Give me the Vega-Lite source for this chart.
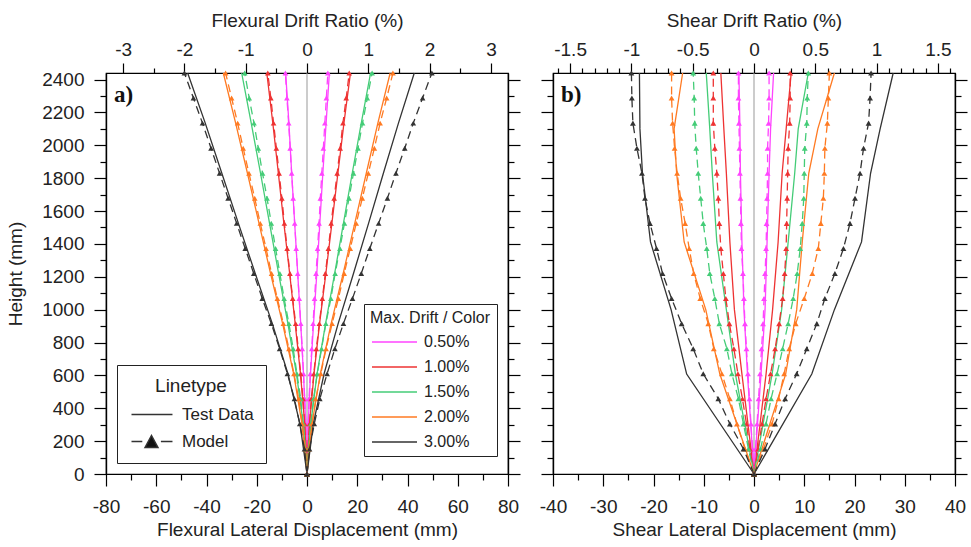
{
"$schema":"https://vega.github.io/schema/vega-lite/v6.json",
"padding":{"left":6,"top":10,"right":4,"bottom":4},
"background":"white",
"config":{
"font":"Liberation Sans",
"view":{"stroke":"#000","strokeWidth":1.2},
"axis":{"grid":false,"domainColor":"#000","domainWidth":1.2,"tickColor":"#000","tickWidth":1.2,"labelFont":"Liberation Sans","labelFontSize":19,"labelColor":"#222","titleFont":"Liberation Sans","titleFontSize":19,"titleFontWeight":"normal","titleColor":"#222","labelFlush":false,"labelOverlap":false,"labelBound":false},
"legend":{"labelFont":"Liberation Sans","titleFont":"Liberation Sans","labelColor":"#222","titleColor":"#222"}
},
"datasets":{
"test":[
{"p":"a","c":"0.50%","s":"L","h":0,"d":0},{"p":"a","c":"0.50%","s":"L","h":305,"d":-0.5},{"p":"a","c":"0.50%","s":"L","h":610,"d":-1.4},{"p":"a","c":"0.50%","s":"L","h":915,"d":-2.5},{"p":"a","c":"0.50%","s":"L","h":1220,"d":-3.7},{"p":"a","c":"0.50%","s":"L","h":1525,"d":-4.9},{"p":"a","c":"0.50%","s":"L","h":1830,"d":-6.1},{"p":"a","c":"0.50%","s":"L","h":2135,"d":-7.2},{"p":"a","c":"0.50%","s":"L","h":2440,"d":-8.5},
{"p":"a","c":"0.50%","s":"R","h":0,"d":0},{"p":"a","c":"0.50%","s":"R","h":305,"d":0.5},{"p":"a","c":"0.50%","s":"R","h":610,"d":1.4},{"p":"a","c":"0.50%","s":"R","h":915,"d":2.6},{"p":"a","c":"0.50%","s":"R","h":1220,"d":3.9},{"p":"a","c":"0.50%","s":"R","h":1525,"d":5.1},{"p":"a","c":"0.50%","s":"R","h":1830,"d":6.3},{"p":"a","c":"0.50%","s":"R","h":2135,"d":7.6},{"p":"a","c":"0.50%","s":"R","h":2440,"d":8.9},
{"p":"a","c":"1.00%","s":"L","h":0,"d":0},{"p":"a","c":"1.00%","s":"L","h":305,"d":-0.9},{"p":"a","c":"1.00%","s":"L","h":610,"d":-2.6},{"p":"a","c":"1.00%","s":"L","h":915,"d":-4.7},{"p":"a","c":"1.00%","s":"L","h":1220,"d":-6.9},{"p":"a","c":"1.00%","s":"L","h":1525,"d":-9.2},{"p":"a","c":"1.00%","s":"L","h":1830,"d":-11.4},{"p":"a","c":"1.00%","s":"L","h":2135,"d":-13.6},{"p":"a","c":"1.00%","s":"L","h":2440,"d":-16.0},
{"p":"a","c":"1.00%","s":"R","h":0,"d":0},{"p":"a","c":"1.00%","s":"R","h":305,"d":1.0},{"p":"a","c":"1.00%","s":"R","h":610,"d":2.8},{"p":"a","c":"1.00%","s":"R","h":915,"d":5.0},{"p":"a","c":"1.00%","s":"R","h":1220,"d":7.5},{"p":"a","c":"1.00%","s":"R","h":1525,"d":9.9},{"p":"a","c":"1.00%","s":"R","h":1830,"d":12.3},{"p":"a","c":"1.00%","s":"R","h":2135,"d":14.7},{"p":"a","c":"1.00%","s":"R","h":2440,"d":17.3},
{"p":"a","c":"1.50%","s":"L","h":0,"d":0},{"p":"a","c":"1.50%","s":"L","h":305,"d":-1.5},{"p":"a","c":"1.50%","s":"L","h":610,"d":-4.2},{"p":"a","c":"1.50%","s":"L","h":915,"d":-7.6},{"p":"a","c":"1.50%","s":"L","h":1220,"d":-11.3},{"p":"a","c":"1.50%","s":"L","h":1525,"d":-14.9},{"p":"a","c":"1.50%","s":"L","h":1830,"d":-18.5},{"p":"a","c":"1.50%","s":"L","h":2135,"d":-22.2},{"p":"a","c":"1.50%","s":"L","h":2440,"d":-26.0},
{"p":"a","c":"1.50%","s":"R","h":0,"d":0},{"p":"a","c":"1.50%","s":"R","h":305,"d":1.5},{"p":"a","c":"1.50%","s":"R","h":610,"d":4.0},{"p":"a","c":"1.50%","s":"R","h":915,"d":7.4},{"p":"a","c":"1.50%","s":"R","h":1220,"d":11.0},{"p":"a","c":"1.50%","s":"R","h":1525,"d":14.5},{"p":"a","c":"1.50%","s":"R","h":1830,"d":18.0},{"p":"a","c":"1.50%","s":"R","h":2135,"d":21.6},{"p":"a","c":"1.50%","s":"R","h":2440,"d":25.3},
{"p":"a","c":"2.00%","s":"L","h":0,"d":0},{"p":"a","c":"2.00%","s":"L","h":305,"d":-2.0},{"p":"a","c":"2.00%","s":"L","h":610,"d":-5.3},{"p":"a","c":"2.00%","s":"L","h":915,"d":-9.7},{"p":"a","c":"2.00%","s":"L","h":1220,"d":-14.5},{"p":"a","c":"2.00%","s":"L","h":1525,"d":-19.1},{"p":"a","c":"2.00%","s":"L","h":1830,"d":-23.7},{"p":"a","c":"2.00%","s":"L","h":2135,"d":-28.4},{"p":"a","c":"2.00%","s":"L","h":2440,"d":-33.3},
{"p":"a","c":"2.00%","s":"R","h":0,"d":0},{"p":"a","c":"2.00%","s":"R","h":305,"d":2.0},{"p":"a","c":"2.00%","s":"R","h":610,"d":5.3},{"p":"a","c":"2.00%","s":"R","h":915,"d":9.6},{"p":"a","c":"2.00%","s":"R","h":1220,"d":14.4},{"p":"a","c":"2.00%","s":"R","h":1525,"d":19.0},{"p":"a","c":"2.00%","s":"R","h":1830,"d":23.6},{"p":"a","c":"2.00%","s":"R","h":2135,"d":28.2},{"p":"a","c":"2.00%","s":"R","h":2440,"d":33.1},
{"p":"a","c":"3.00%","s":"L","h":0,"d":0},{"p":"a","c":"3.00%","s":"L","h":305,"d":-2.8},{"p":"a","c":"3.00%","s":"L","h":610,"d":-7.6},{"p":"a","c":"3.00%","s":"L","h":915,"d":-13.8},{"p":"a","c":"3.00%","s":"L","h":1220,"d":-20.6},{"p":"a","c":"3.00%","s":"L","h":1525,"d":-27.3},{"p":"a","c":"3.00%","s":"L","h":1830,"d":-33.9},{"p":"a","c":"3.00%","s":"L","h":2135,"d":-40.5},{"p":"a","c":"3.00%","s":"L","h":2440,"d":-47.5},
{"p":"a","c":"3.00%","s":"R","h":0,"d":0},{"p":"a","c":"3.00%","s":"R","h":305,"d":2.5},{"p":"a","c":"3.00%","s":"R","h":610,"d":6.8},{"p":"a","c":"3.00%","s":"R","h":915,"d":12.4},{"p":"a","c":"3.00%","s":"R","h":1220,"d":18.5},{"p":"a","c":"3.00%","s":"R","h":1525,"d":24.5},{"p":"a","c":"3.00%","s":"R","h":1830,"d":30.4},{"p":"a","c":"3.00%","s":"R","h":2135,"d":36.4},{"p":"a","c":"3.00%","s":"R","h":2440,"d":42.7},
{"p":"b","c":"0.50%","s":"L","h":0,"d":0},{"p":"b","c":"0.50%","s":"L","h":608,"d":-1.3},{"p":"b","c":"0.50%","s":"L","h":1000,"d":-2.0},{"p":"b","c":"0.50%","s":"L","h":1412,"d":-2.4},{"p":"b","c":"0.50%","s":"L","h":1830,"d":-2.7},{"p":"b","c":"0.50%","s":"L","h":2100,"d":-2.8},{"p":"b","c":"0.50%","s":"L","h":2440,"d":-3.0},
{"p":"b","c":"0.50%","s":"R","h":0,"d":0},{"p":"b","c":"0.50%","s":"R","h":608,"d":1.4},{"p":"b","c":"0.50%","s":"R","h":1000,"d":2.2},{"p":"b","c":"0.50%","s":"R","h":1412,"d":2.6},{"p":"b","c":"0.50%","s":"R","h":1830,"d":3.0},{"p":"b","c":"0.50%","s":"R","h":2100,"d":3.3},{"p":"b","c":"0.50%","s":"R","h":2440,"d":3.9},
{"p":"b","c":"1.00%","s":"L","h":0,"d":0},{"p":"b","c":"1.00%","s":"L","h":608,"d":-2.4},{"p":"b","c":"1.00%","s":"L","h":1000,"d":-3.9},{"p":"b","c":"1.00%","s":"L","h":1412,"d":-4.8},{"p":"b","c":"1.00%","s":"L","h":1830,"d":-5.5},{"p":"b","c":"1.00%","s":"L","h":2100,"d":-6.0},{"p":"b","c":"1.00%","s":"L","h":2440,"d":-6.6},
{"p":"b","c":"1.00%","s":"R","h":0,"d":0},{"p":"b","c":"1.00%","s":"R","h":608,"d":2.4},{"p":"b","c":"1.00%","s":"R","h":1000,"d":3.7},{"p":"b","c":"1.00%","s":"R","h":1412,"d":4.8},{"p":"b","c":"1.00%","s":"R","h":1830,"d":5.6},{"p":"b","c":"1.00%","s":"R","h":2100,"d":6.4},{"p":"b","c":"1.00%","s":"R","h":2440,"d":7.4},
{"p":"b","c":"1.50%","s":"L","h":0,"d":0},{"p":"b","c":"1.50%","s":"L","h":608,"d":-3.7},{"p":"b","c":"1.50%","s":"L","h":1000,"d":-5.5},{"p":"b","c":"1.50%","s":"L","h":1412,"d":-7.4},{"p":"b","c":"1.50%","s":"L","h":1830,"d":-8.3},{"p":"b","c":"1.50%","s":"L","h":2100,"d":-8.8},{"p":"b","c":"1.50%","s":"L","h":2440,"d":-9.5},
{"p":"b","c":"1.50%","s":"R","h":0,"d":0},{"p":"b","c":"1.50%","s":"R","h":608,"d":3.6},{"p":"b","c":"1.50%","s":"R","h":1000,"d":5.5},{"p":"b","c":"1.50%","s":"R","h":1412,"d":6.8},{"p":"b","c":"1.50%","s":"R","h":1830,"d":8.1},{"p":"b","c":"1.50%","s":"R","h":2100,"d":8.8},{"p":"b","c":"1.50%","s":"R","h":2440,"d":10.8},
{"p":"b","c":"2.00%","s":"L","h":0,"d":0},{"p":"b","c":"2.00%","s":"L","h":608,"d":-6.8},{"p":"b","c":"2.00%","s":"L","h":1000,"d":-9.6},{"p":"b","c":"2.00%","s":"L","h":1412,"d":-13.9},{"p":"b","c":"2.00%","s":"L","h":1830,"d":-15.4},{"p":"b","c":"2.00%","s":"L","h":2100,"d":-15.9},{"p":"b","c":"2.00%","s":"L","h":2440,"d":-14.2},
{"p":"b","c":"2.00%","s":"R","h":0,"d":0},{"p":"b","c":"2.00%","s":"R","h":608,"d":6.3},{"p":"b","c":"2.00%","s":"R","h":1000,"d":8.5},{"p":"b","c":"2.00%","s":"R","h":1412,"d":9.6},{"p":"b","c":"2.00%","s":"R","h":1830,"d":10.9},{"p":"b","c":"2.00%","s":"R","h":2100,"d":12.7},{"p":"b","c":"2.00%","s":"R","h":2440,"d":16.0},
{"p":"b","c":"3.00%","s":"L","h":0,"d":0},{"p":"b","c":"3.00%","s":"L","h":608,"d":-13.4},{"p":"b","c":"3.00%","s":"L","h":1000,"d":-16.5},{"p":"b","c":"3.00%","s":"L","h":1412,"d":-20.6},{"p":"b","c":"3.00%","s":"L","h":1830,"d":-22.2},{"p":"b","c":"3.00%","s":"L","h":2100,"d":-22.7},{"p":"b","c":"3.00%","s":"L","h":2440,"d":-22.8},
{"p":"b","c":"3.00%","s":"R","h":0,"d":0},{"p":"b","c":"3.00%","s":"R","h":608,"d":11.5},{"p":"b","c":"3.00%","s":"R","h":1000,"d":16.0},{"p":"b","c":"3.00%","s":"R","h":1412,"d":21.4},{"p":"b","c":"3.00%","s":"R","h":1830,"d":23.2},{"p":"b","c":"3.00%","s":"R","h":2100,"d":25.1},{"p":"b","c":"3.00%","s":"R","h":2440,"d":27.7}
],
"model":[
{"p":"a","c":"0.50%","s":"L","h":0,"d":0},{"p":"a","c":"0.50%","s":"L","h":152.5,"d":-0.2},{"p":"a","c":"0.50%","s":"L","h":305,"d":-0.5},{"p":"a","c":"0.50%","s":"L","h":457.5,"d":-0.9},{"p":"a","c":"0.50%","s":"L","h":610,"d":-1.4},{"p":"a","c":"0.50%","s":"L","h":762.5,"d":-1.9},{"p":"a","c":"0.50%","s":"L","h":915,"d":-2.5},{"p":"a","c":"0.50%","s":"L","h":1067.5,"d":-3.1},{"p":"a","c":"0.50%","s":"L","h":1220,"d":-3.7},{"p":"a","c":"0.50%","s":"L","h":1372.5,"d":-4.3},{"p":"a","c":"0.50%","s":"L","h":1525,"d":-4.9},{"p":"a","c":"0.50%","s":"L","h":1677.5,"d":-5.5},{"p":"a","c":"0.50%","s":"L","h":1830,"d":-6.1},{"p":"a","c":"0.50%","s":"L","h":1982.5,"d":-6.7},{"p":"a","c":"0.50%","s":"L","h":2135,"d":-7.3},{"p":"a","c":"0.50%","s":"L","h":2287.5,"d":-8.0},{"p":"a","c":"0.50%","s":"L","h":2440,"d":-8.6},
{"p":"a","c":"0.50%","s":"R","h":0,"d":0},{"p":"a","c":"0.50%","s":"R","h":152.5,"d":0.2},{"p":"a","c":"0.50%","s":"R","h":305,"d":0.5},{"p":"a","c":"0.50%","s":"R","h":457.5,"d":0.8},{"p":"a","c":"0.50%","s":"R","h":610,"d":1.3},{"p":"a","c":"0.50%","s":"R","h":762.5,"d":1.9},{"p":"a","c":"0.50%","s":"R","h":915,"d":2.4},{"p":"a","c":"0.50%","s":"R","h":1067.5,"d":3.0},{"p":"a","c":"0.50%","s":"R","h":1220,"d":3.6},{"p":"a","c":"0.50%","s":"R","h":1372.5,"d":4.2},{"p":"a","c":"0.50%","s":"R","h":1525,"d":4.8},{"p":"a","c":"0.50%","s":"R","h":1677.5,"d":5.3},{"p":"a","c":"0.50%","s":"R","h":1830,"d":5.9},{"p":"a","c":"0.50%","s":"R","h":1982.5,"d":6.5},{"p":"a","c":"0.50%","s":"R","h":2135,"d":7.1},{"p":"a","c":"0.50%","s":"R","h":2287.5,"d":7.7},{"p":"a","c":"0.50%","s":"R","h":2440,"d":8.3},
{"p":"a","c":"1.00%","s":"L","h":0,"d":0},{"p":"a","c":"1.00%","s":"L","h":152.5,"d":-0.3},{"p":"a","c":"1.00%","s":"L","h":305,"d":-0.9},{"p":"a","c":"1.00%","s":"L","h":457.5,"d":-1.6},{"p":"a","c":"1.00%","s":"L","h":610,"d":-2.5},{"p":"a","c":"1.00%","s":"L","h":762.5,"d":-3.5},{"p":"a","c":"1.00%","s":"L","h":915,"d":-4.5},{"p":"a","c":"1.00%","s":"L","h":1067.5,"d":-5.7},{"p":"a","c":"1.00%","s":"L","h":1220,"d":-6.8},{"p":"a","c":"1.00%","s":"L","h":1372.5,"d":-7.9},{"p":"a","c":"1.00%","s":"L","h":1525,"d":-9.0},{"p":"a","c":"1.00%","s":"L","h":1677.5,"d":-10.0},{"p":"a","c":"1.00%","s":"L","h":1830,"d":-11.1},{"p":"a","c":"1.00%","s":"L","h":1982.5,"d":-12.2},{"p":"a","c":"1.00%","s":"L","h":2135,"d":-13.3},{"p":"a","c":"1.00%","s":"L","h":2287.5,"d":-14.4},{"p":"a","c":"1.00%","s":"L","h":2440,"d":-15.6},
{"p":"a","c":"1.00%","s":"R","h":0,"d":0},{"p":"a","c":"1.00%","s":"R","h":152.5,"d":0.3},{"p":"a","c":"1.00%","s":"R","h":305,"d":1.0},{"p":"a","c":"1.00%","s":"R","h":457.5,"d":1.7},{"p":"a","c":"1.00%","s":"R","h":610,"d":2.7},{"p":"a","c":"1.00%","s":"R","h":762.5,"d":3.7},{"p":"a","c":"1.00%","s":"R","h":915,"d":4.9},{"p":"a","c":"1.00%","s":"R","h":1067.5,"d":6.1},{"p":"a","c":"1.00%","s":"R","h":1220,"d":7.3},{"p":"a","c":"1.00%","s":"R","h":1372.5,"d":8.5},{"p":"a","c":"1.00%","s":"R","h":1525,"d":9.6},{"p":"a","c":"1.00%","s":"R","h":1677.5,"d":10.8},{"p":"a","c":"1.00%","s":"R","h":1830,"d":12.0},{"p":"a","c":"1.00%","s":"R","h":1982.5,"d":13.2},{"p":"a","c":"1.00%","s":"R","h":2135,"d":14.3},{"p":"a","c":"1.00%","s":"R","h":2287.5,"d":15.6},{"p":"a","c":"1.00%","s":"R","h":2440,"d":16.8},
{"p":"a","c":"1.50%","s":"L","h":0,"d":0},{"p":"a","c":"1.50%","s":"L","h":152.5,"d":-0.5},{"p":"a","c":"1.50%","s":"L","h":305,"d":-1.5},{"p":"a","c":"1.50%","s":"L","h":457.5,"d":-2.5},{"p":"a","c":"1.50%","s":"L","h":610,"d":-4.0},{"p":"a","c":"1.50%","s":"L","h":762.5,"d":-5.5},{"p":"a","c":"1.50%","s":"L","h":915,"d":-7.2},{"p":"a","c":"1.50%","s":"L","h":1067.5,"d":-9.1},{"p":"a","c":"1.50%","s":"L","h":1220,"d":-10.8},{"p":"a","c":"1.50%","s":"L","h":1372.5,"d":-12.5},{"p":"a","c":"1.50%","s":"L","h":1525,"d":-14.2},{"p":"a","c":"1.50%","s":"L","h":1677.5,"d":-15.9},{"p":"a","c":"1.50%","s":"L","h":1830,"d":-17.7},{"p":"a","c":"1.50%","s":"L","h":1982.5,"d":-19.4},{"p":"a","c":"1.50%","s":"L","h":2135,"d":-21.1},{"p":"a","c":"1.50%","s":"L","h":2287.5,"d":-23.0},{"p":"a","c":"1.50%","s":"L","h":2440,"d":-24.8},
{"p":"a","c":"1.50%","s":"R","h":0,"d":0},{"p":"a","c":"1.50%","s":"R","h":152.5,"d":0.5},{"p":"a","c":"1.50%","s":"R","h":305,"d":1.5},{"p":"a","c":"1.50%","s":"R","h":457.5,"d":2.6},{"p":"a","c":"1.50%","s":"R","h":610,"d":4.1},{"p":"a","c":"1.50%","s":"R","h":762.5,"d":5.8},{"p":"a","c":"1.50%","s":"R","h":915,"d":7.5},{"p":"a","c":"1.50%","s":"R","h":1067.5,"d":9.5},{"p":"a","c":"1.50%","s":"R","h":1220,"d":11.2},{"p":"a","c":"1.50%","s":"R","h":1372.5,"d":13.1},{"p":"a","c":"1.50%","s":"R","h":1525,"d":14.9},{"p":"a","c":"1.50%","s":"R","h":1677.5,"d":16.7},{"p":"a","c":"1.50%","s":"R","h":1830,"d":18.5},{"p":"a","c":"1.50%","s":"R","h":1982.5,"d":20.3},{"p":"a","c":"1.50%","s":"R","h":2135,"d":22.1},{"p":"a","c":"1.50%","s":"R","h":2287.5,"d":24.0},{"p":"a","c":"1.50%","s":"R","h":2440,"d":25.9},
{"p":"a","c":"2.00%","s":"L","h":0,"d":0},{"p":"a","c":"2.00%","s":"L","h":152.5,"d":-0.6},{"p":"a","c":"2.00%","s":"L","h":305,"d":-1.9},{"p":"a","c":"2.00%","s":"L","h":457.5,"d":-3.3},{"p":"a","c":"2.00%","s":"L","h":610,"d":-5.2},{"p":"a","c":"2.00%","s":"L","h":762.5,"d":-7.2},{"p":"a","c":"2.00%","s":"L","h":915,"d":-9.4},{"p":"a","c":"2.00%","s":"L","h":1067.5,"d":-11.8},{"p":"a","c":"2.00%","s":"L","h":1220,"d":-14.1},{"p":"a","c":"2.00%","s":"L","h":1372.5,"d":-16.3},{"p":"a","c":"2.00%","s":"L","h":1525,"d":-18.6},{"p":"a","c":"2.00%","s":"L","h":1677.5,"d":-20.8},{"p":"a","c":"2.00%","s":"L","h":1830,"d":-23.1},{"p":"a","c":"2.00%","s":"L","h":1982.5,"d":-25.4},{"p":"a","c":"2.00%","s":"L","h":2135,"d":-27.6},{"p":"a","c":"2.00%","s":"L","h":2287.5,"d":-30.0},{"p":"a","c":"2.00%","s":"L","h":2440,"d":-32.4},
{"p":"a","c":"2.00%","s":"R","h":0,"d":0},{"p":"a","c":"2.00%","s":"R","h":152.5,"d":0.7},{"p":"a","c":"2.00%","s":"R","h":305,"d":2.0},{"p":"a","c":"2.00%","s":"R","h":457.5,"d":3.5},{"p":"a","c":"2.00%","s":"R","h":610,"d":5.5},{"p":"a","c":"2.00%","s":"R","h":762.5,"d":7.6},{"p":"a","c":"2.00%","s":"R","h":915,"d":10.0},{"p":"a","c":"2.00%","s":"R","h":1067.5,"d":12.5},{"p":"a","c":"2.00%","s":"R","h":1220,"d":14.8},{"p":"a","c":"2.00%","s":"R","h":1372.5,"d":17.2},{"p":"a","c":"2.00%","s":"R","h":1525,"d":19.6},{"p":"a","c":"2.00%","s":"R","h":1677.5,"d":22.0},{"p":"a","c":"2.00%","s":"R","h":1830,"d":24.4},{"p":"a","c":"2.00%","s":"R","h":1982.5,"d":26.8},{"p":"a","c":"2.00%","s":"R","h":2135,"d":29.1},{"p":"a","c":"2.00%","s":"R","h":2287.5,"d":31.7},{"p":"a","c":"2.00%","s":"R","h":2440,"d":34.2},
{"p":"a","c":"3.00%","s":"L","h":0,"d":0},{"p":"a","c":"3.00%","s":"L","h":152.5,"d":-1.0},{"p":"a","c":"3.00%","s":"L","h":305,"d":-2.9},{"p":"a","c":"3.00%","s":"L","h":457.5,"d":-5.0},{"p":"a","c":"3.00%","s":"L","h":610,"d":-7.8},{"p":"a","c":"3.00%","s":"L","h":762.5,"d":-10.9},{"p":"a","c":"3.00%","s":"L","h":915,"d":-14.2},{"p":"a","c":"3.00%","s":"L","h":1067.5,"d":-17.8},{"p":"a","c":"3.00%","s":"L","h":1220,"d":-21.2},{"p":"a","c":"3.00%","s":"L","h":1372.5,"d":-24.6},{"p":"a","c":"3.00%","s":"L","h":1525,"d":-28.0},{"p":"a","c":"3.00%","s":"L","h":1677.5,"d":-31.4},{"p":"a","c":"3.00%","s":"L","h":1830,"d":-34.8},{"p":"a","c":"3.00%","s":"L","h":1982.5,"d":-38.2},{"p":"a","c":"3.00%","s":"L","h":2135,"d":-41.6},{"p":"a","c":"3.00%","s":"L","h":2287.5,"d":-45.2},{"p":"a","c":"3.00%","s":"L","h":2440,"d":-48.8},
{"p":"a","c":"3.00%","s":"R","h":0,"d":0},{"p":"a","c":"3.00%","s":"R","h":152.5,"d":1.0},{"p":"a","c":"3.00%","s":"R","h":305,"d":2.9},{"p":"a","c":"3.00%","s":"R","h":457.5,"d":5.1},{"p":"a","c":"3.00%","s":"R","h":610,"d":8.0},{"p":"a","c":"3.00%","s":"R","h":762.5,"d":11.1},{"p":"a","c":"3.00%","s":"R","h":915,"d":14.5},{"p":"a","c":"3.00%","s":"R","h":1067.5,"d":18.1},{"p":"a","c":"3.00%","s":"R","h":1220,"d":21.6},{"p":"a","c":"3.00%","s":"R","h":1372.5,"d":25.0},{"p":"a","c":"3.00%","s":"R","h":1525,"d":28.5},{"p":"a","c":"3.00%","s":"R","h":1677.5,"d":32.0},{"p":"a","c":"3.00%","s":"R","h":1830,"d":35.4},{"p":"a","c":"3.00%","s":"R","h":1982.5,"d":38.9},{"p":"a","c":"3.00%","s":"R","h":2135,"d":42.3},{"p":"a","c":"3.00%","s":"R","h":2287.5,"d":46.0},{"p":"a","c":"3.00%","s":"R","h":2440,"d":49.7},
{"p":"b","c":"0.50%","s":"L","h":0,"d":0},{"p":"b","c":"0.50%","s":"L","h":152.5,"d":-0.3},{"p":"b","c":"0.50%","s":"L","h":305,"d":-0.6},{"p":"b","c":"0.50%","s":"L","h":457.5,"d":-0.9},{"p":"b","c":"0.50%","s":"L","h":610,"d":-1.2},{"p":"b","c":"0.50%","s":"L","h":762.5,"d":-1.5},{"p":"b","c":"0.50%","s":"L","h":915,"d":-1.8},{"p":"b","c":"0.50%","s":"L","h":1067.5,"d":-2.0},{"p":"b","c":"0.50%","s":"L","h":1220,"d":-2.2},{"p":"b","c":"0.50%","s":"L","h":1372.5,"d":-2.5},{"p":"b","c":"0.50%","s":"L","h":1525,"d":-2.6},{"p":"b","c":"0.50%","s":"L","h":1677.5,"d":-2.7},{"p":"b","c":"0.50%","s":"L","h":1830,"d":-2.8},{"p":"b","c":"0.50%","s":"L","h":1982.5,"d":-2.9},{"p":"b","c":"0.50%","s":"L","h":2135,"d":-3.0},{"p":"b","c":"0.50%","s":"L","h":2287.5,"d":-3.1},{"p":"b","c":"0.50%","s":"L","h":2440,"d":-3.1},
{"p":"b","c":"0.50%","s":"R","h":0,"d":0},{"p":"b","c":"0.50%","s":"R","h":152.5,"d":0.3},{"p":"b","c":"0.50%","s":"R","h":305,"d":0.6},{"p":"b","c":"0.50%","s":"R","h":457.5,"d":0.9},{"p":"b","c":"0.50%","s":"R","h":610,"d":1.2},{"p":"b","c":"0.50%","s":"R","h":762.5,"d":1.5},{"p":"b","c":"0.50%","s":"R","h":915,"d":1.8},{"p":"b","c":"0.50%","s":"R","h":1067.5,"d":2.0},{"p":"b","c":"0.50%","s":"R","h":1220,"d":2.2},{"p":"b","c":"0.50%","s":"R","h":1372.5,"d":2.4},{"p":"b","c":"0.50%","s":"R","h":1525,"d":2.5},{"p":"b","c":"0.50%","s":"R","h":1677.5,"d":2.6},{"p":"b","c":"0.50%","s":"R","h":1830,"d":2.7},{"p":"b","c":"0.50%","s":"R","h":1982.5,"d":2.7},{"p":"b","c":"0.50%","s":"R","h":2135,"d":2.9},{"p":"b","c":"0.50%","s":"R","h":2287.5,"d":3.0},{"p":"b","c":"0.50%","s":"R","h":2440,"d":3.0},
{"p":"b","c":"1.00%","s":"L","h":0,"d":0},{"p":"b","c":"1.00%","s":"L","h":152.5,"d":-0.8},{"p":"b","c":"1.00%","s":"L","h":305,"d":-1.5},{"p":"b","c":"1.00%","s":"L","h":457.5,"d":-2.3},{"p":"b","c":"1.00%","s":"L","h":610,"d":-3.2},{"p":"b","c":"1.00%","s":"L","h":762.5,"d":-4.0},{"p":"b","c":"1.00%","s":"L","h":915,"d":-4.9},{"p":"b","c":"1.00%","s":"L","h":1067.5,"d":-5.6},{"p":"b","c":"1.00%","s":"L","h":1220,"d":-6.1},{"p":"b","c":"1.00%","s":"L","h":1372.5,"d":-6.6},{"p":"b","c":"1.00%","s":"L","h":1525,"d":-6.9},{"p":"b","c":"1.00%","s":"L","h":1677.5,"d":-7.1},{"p":"b","c":"1.00%","s":"L","h":1830,"d":-7.4},{"p":"b","c":"1.00%","s":"L","h":1982.5,"d":-7.8},{"p":"b","c":"1.00%","s":"L","h":2135,"d":-8.1},{"p":"b","c":"1.00%","s":"L","h":2287.5,"d":-8.1},{"p":"b","c":"1.00%","s":"L","h":2440,"d":-8.1},
{"p":"b","c":"1.00%","s":"R","h":0,"d":0},{"p":"b","c":"1.00%","s":"R","h":152.5,"d":0.8},{"p":"b","c":"1.00%","s":"R","h":305,"d":1.6},{"p":"b","c":"1.00%","s":"R","h":457.5,"d":2.4},{"p":"b","c":"1.00%","s":"R","h":610,"d":3.3},{"p":"b","c":"1.00%","s":"R","h":762.5,"d":4.2},{"p":"b","c":"1.00%","s":"R","h":915,"d":5.0},{"p":"b","c":"1.00%","s":"R","h":1067.5,"d":5.7},{"p":"b","c":"1.00%","s":"R","h":1220,"d":6.1},{"p":"b","c":"1.00%","s":"R","h":1372.5,"d":6.4},{"p":"b","c":"1.00%","s":"R","h":1525,"d":6.5},{"p":"b","c":"1.00%","s":"R","h":1677.5,"d":6.6},{"p":"b","c":"1.00%","s":"R","h":1830,"d":6.7},{"p":"b","c":"1.00%","s":"R","h":1982.5,"d":6.8},{"p":"b","c":"1.00%","s":"R","h":2135,"d":7.1},{"p":"b","c":"1.00%","s":"R","h":2287.5,"d":7.2},{"p":"b","c":"1.00%","s":"R","h":2440,"d":7.2},
{"p":"b","c":"1.50%","s":"L","h":0,"d":0},{"p":"b","c":"1.50%","s":"L","h":152.5,"d":-1.1},{"p":"b","c":"1.50%","s":"L","h":305,"d":-2.1},{"p":"b","c":"1.50%","s":"L","h":457.5,"d":-3.1},{"p":"b","c":"1.50%","s":"L","h":610,"d":-4.4},{"p":"b","c":"1.50%","s":"L","h":762.5,"d":-5.4},{"p":"b","c":"1.50%","s":"L","h":915,"d":-6.9},{"p":"b","c":"1.50%","s":"L","h":1067.5,"d":-7.8},{"p":"b","c":"1.50%","s":"L","h":1220,"d":-8.8},{"p":"b","c":"1.50%","s":"L","h":1372.5,"d":-9.4},{"p":"b","c":"1.50%","s":"L","h":1525,"d":-10.1},{"p":"b","c":"1.50%","s":"L","h":1677.5,"d":-10.6},{"p":"b","c":"1.50%","s":"L","h":1830,"d":-11.1},{"p":"b","c":"1.50%","s":"L","h":1982.5,"d":-11.5},{"p":"b","c":"1.50%","s":"L","h":2135,"d":-11.8},{"p":"b","c":"1.50%","s":"L","h":2287.5,"d":-11.9},{"p":"b","c":"1.50%","s":"L","h":2440,"d":-12.1},
{"p":"b","c":"1.50%","s":"R","h":0,"d":0},{"p":"b","c":"1.50%","s":"R","h":152.5,"d":1.3},{"p":"b","c":"1.50%","s":"R","h":305,"d":2.4},{"p":"b","c":"1.50%","s":"R","h":457.5,"d":3.4},{"p":"b","c":"1.50%","s":"R","h":610,"d":4.6},{"p":"b","c":"1.50%","s":"R","h":762.5,"d":5.7},{"p":"b","c":"1.50%","s":"R","h":915,"d":6.8},{"p":"b","c":"1.50%","s":"R","h":1067.5,"d":7.8},{"p":"b","c":"1.50%","s":"R","h":1220,"d":8.6},{"p":"b","c":"1.50%","s":"R","h":1372.5,"d":9.2},{"p":"b","c":"1.50%","s":"R","h":1525,"d":9.6},{"p":"b","c":"1.50%","s":"R","h":1677.5,"d":9.9},{"p":"b","c":"1.50%","s":"R","h":1830,"d":10.0},{"p":"b","c":"1.50%","s":"R","h":1982.5,"d":10.1},{"p":"b","c":"1.50%","s":"R","h":2135,"d":10.5},{"p":"b","c":"1.50%","s":"R","h":2287.5,"d":10.6},{"p":"b","c":"1.50%","s":"R","h":2440,"d":10.8},
{"p":"b","c":"2.00%","s":"L","h":0,"d":0},{"p":"b","c":"2.00%","s":"L","h":152.5,"d":-1.8},{"p":"b","c":"2.00%","s":"L","h":305,"d":-3.4},{"p":"b","c":"2.00%","s":"L","h":457.5,"d":-4.8},{"p":"b","c":"2.00%","s":"L","h":610,"d":-6.4},{"p":"b","c":"2.00%","s":"L","h":762.5,"d":-8.0},{"p":"b","c":"2.00%","s":"L","h":915,"d":-9.1},{"p":"b","c":"2.00%","s":"L","h":1067.5,"d":-10.7},{"p":"b","c":"2.00%","s":"L","h":1220,"d":-12.0},{"p":"b","c":"2.00%","s":"L","h":1372.5,"d":-12.9},{"p":"b","c":"2.00%","s":"L","h":1525,"d":-13.7},{"p":"b","c":"2.00%","s":"L","h":1677.5,"d":-14.6},{"p":"b","c":"2.00%","s":"L","h":1830,"d":-15.3},{"p":"b","c":"2.00%","s":"L","h":1982.5,"d":-15.8},{"p":"b","c":"2.00%","s":"L","h":2135,"d":-16.2},{"p":"b","c":"2.00%","s":"L","h":2287.5,"d":-16.4},{"p":"b","c":"2.00%","s":"L","h":2440,"d":-16.4},
{"p":"b","c":"2.00%","s":"R","h":0,"d":0},{"p":"b","c":"2.00%","s":"R","h":152.5,"d":1.9},{"p":"b","c":"2.00%","s":"R","h":305,"d":3.6},{"p":"b","c":"2.00%","s":"R","h":457.5,"d":4.9},{"p":"b","c":"2.00%","s":"R","h":610,"d":6.0},{"p":"b","c":"2.00%","s":"R","h":762.5,"d":7.0},{"p":"b","c":"2.00%","s":"R","h":915,"d":8.3},{"p":"b","c":"2.00%","s":"R","h":1067.5,"d":10.0},{"p":"b","c":"2.00%","s":"R","h":1220,"d":11.6},{"p":"b","c":"2.00%","s":"R","h":1372.5,"d":12.8},{"p":"b","c":"2.00%","s":"R","h":1525,"d":13.3},{"p":"b","c":"2.00%","s":"R","h":1677.5,"d":13.8},{"p":"b","c":"2.00%","s":"R","h":1830,"d":14.0},{"p":"b","c":"2.00%","s":"R","h":1982.5,"d":14.1},{"p":"b","c":"2.00%","s":"R","h":2135,"d":14.6},{"p":"b","c":"2.00%","s":"R","h":2287.5,"d":14.8},{"p":"b","c":"2.00%","s":"R","h":2440,"d":15.0},
{"p":"b","c":"3.00%","s":"L","h":0,"d":0},{"p":"b","c":"3.00%","s":"L","h":152.5,"d":-2.1},{"p":"b","c":"3.00%","s":"L","h":305,"d":-4.8},{"p":"b","c":"3.00%","s":"L","h":457.5,"d":-7.1},{"p":"b","c":"3.00%","s":"L","h":610,"d":-10.1},{"p":"b","c":"3.00%","s":"L","h":762.5,"d":-12.1},{"p":"b","c":"3.00%","s":"L","h":915,"d":-14.4},{"p":"b","c":"3.00%","s":"L","h":1067.5,"d":-16.4},{"p":"b","c":"3.00%","s":"L","h":1220,"d":-18.2},{"p":"b","c":"3.00%","s":"L","h":1372.5,"d":-19.4},{"p":"b","c":"3.00%","s":"L","h":1525,"d":-20.7},{"p":"b","c":"3.00%","s":"L","h":1677.5,"d":-21.7},{"p":"b","c":"3.00%","s":"L","h":1830,"d":-22.3},{"p":"b","c":"3.00%","s":"L","h":1982.5,"d":-23.3},{"p":"b","c":"3.00%","s":"L","h":2135,"d":-24.1},{"p":"b","c":"3.00%","s":"L","h":2287.5,"d":-24.3},{"p":"b","c":"3.00%","s":"L","h":2440,"d":-24.4},
{"p":"b","c":"3.00%","s":"R","h":0,"d":0},{"p":"b","c":"3.00%","s":"R","h":152.5,"d":2.2},{"p":"b","c":"3.00%","s":"R","h":305,"d":4.2},{"p":"b","c":"3.00%","s":"R","h":457.5,"d":6.2},{"p":"b","c":"3.00%","s":"R","h":610,"d":8.5},{"p":"b","c":"3.00%","s":"R","h":762.5,"d":10.5},{"p":"b","c":"3.00%","s":"R","h":915,"d":12.5},{"p":"b","c":"3.00%","s":"R","h":1067.5,"d":14.1},{"p":"b","c":"3.00%","s":"R","h":1220,"d":16.1},{"p":"b","c":"3.00%","s":"R","h":1372.5,"d":17.8},{"p":"b","c":"3.00%","s":"R","h":1525,"d":19.1},{"p":"b","c":"3.00%","s":"R","h":1677.5,"d":20.1},{"p":"b","c":"3.00%","s":"R","h":1830,"d":21.1},{"p":"b","c":"3.00%","s":"R","h":1982.5,"d":21.8},{"p":"b","c":"3.00%","s":"R","h":2135,"d":22.8},{"p":"b","c":"3.00%","s":"R","h":2287.5,"d":23.1},{"p":"b","c":"3.00%","s":"R","h":2440,"d":23.3}
]
},
"spacing":45,
"bounds":"flush",
"resolve":{"scale":{"x":"independent","y":"independent","color":"independent","shape":"independent"},"legend":{"color":"independent","shape":"independent"}},
"hconcat":[
{
"width":402,"height":401,
"title":{"text":"a)","anchor":"start","frame":"group","font":"Liberation Serif","fontSize":23,"fontWeight":"bold","color":"#111","dx":8,"dy":100},
"resolve":{"axis":{"x":"independent","y":"independent"}},
"layer":[
{"data":{"values":[{"d":0}]},"mark":{"type":"rule","color":"#999","strokeWidth":1},
 "encoding":{"x":{"field":"d","type":"quantitative","scale":{"domain":[-80,80],"nice":false,"zero":false},"axis":null}}},
{"data":{"name":"test"},"transform":[{"filter":"datum.p === 'a'"}],"mark":{"type":"line","strokeWidth":1.3},
 "encoding":{
  "x":{"field":"d","type":"quantitative","scale":{"domain":[-80,80],"nice":false,"zero":false},"axis":{"orient":"bottom","values":[-80,-60,-40,-20,0,20,40,60,80],"labelExpr":"'' + datum.value","tickSize":12,"labelPadding":11,"title":"Flexural Lateral Displacement (mm)","titlePadding":4}},
  "y":{"field":"h","type":"quantitative","scale":{"domain":[0,2440],"nice":false,"zero":false},"axis":{"orient":"left","values":[0,200,400,600,800,1000,1200,1400,1600,1800,2000,2200,2400],"labelExpr":"'' + datum.value","tickSize":12,"labelPadding":10,"title":"Height (mm)","titlePadding":16}},
  "color":{"field":"c","type":"nominal","scale":{"domain":["0.50%","1.00%","1.50%","2.00%","3.00%"],"range":["#ff44ff","#ee3333","#44cc77","#ff7a22","#333333"]},
   "legend":{"title":"Max. Drift / Color","orient":"none","legendX":258,"legendY":231,"symbolType":"M-1,0H6.5","symbolSize":144,"symbolStrokeWidth":1.5,"strokeColor":"#222","fillColor":"white","padding":6,"titleFontWeight":"normal","titleFontSize":16,"labelFontSize":16,"rowPadding":9,"labelOffset":38,"titlePadding":8}},
  "detail":{"field":"s"},
  "order":{"field":"h","type":"quantitative"}}},
{"data":{"name":"model"},"transform":[{"filter":"datum.p === 'a'"}],"mark":{"type":"line","strokeWidth":1.3,"strokeDash":[8,5]},
 "encoding":{
  "x":{"field":"d","type":"quantitative","scale":{"domain":[-80,80],"nice":false,"zero":false},"axis":{"orient":"top","values":[-73.2,-48.8,-24.4,0,24.4,48.8,73.2],"labelExpr":"'' + round(datum.value/24.4)","tickSize":10,"labelPadding":4,"title":"Flexural Drift Ratio (%)","titlePadding":10}},
  "y":{"field":"h","type":"quantitative","scale":{"domain":[0,2440],"nice":false,"zero":false},"axis":{"orient":"right","values":[0,200,400,600,800,1000,1200,1400,1600,1800,2000,2200,2400],"labels":false,"tickSize":12,"title":null}},
  "color":{"field":"c","type":"nominal","legend":null},
  "detail":{"field":"s"},
  "order":{"field":"h","type":"quantitative"}}},
{"data":{"name":"model"},"transform":[{"filter":"datum.p === 'a'"}],"mark":{"type":"point","shape":"triangle-up","filled":true,"size":32,"opacity":1},
 "encoding":{
  "x":{"field":"d","type":"quantitative","scale":{"domain":[-80,80],"nice":false,"zero":false},"axis":{"orient":"bottom","values":[-70,-50,-30,-10,10,30,50,70],"labels":false,"tickSize":6,"title":null}},
  "y":{"field":"h","type":"quantitative","scale":{"domain":[0,2440],"nice":false,"zero":false},"axis":{"orient":"left","values":[100,300,500,700,900,1100,1300,1500,1700,1900,2100,2300],"labels":false,"tickSize":6,"title":null}},
  "color":{"field":"c","type":"nominal","legend":null}}},
{"data":{"name":"model"},"transform":[{"filter":"false"}],"mark":{"type":"point","filled":false,"fill":"#111","stroke":"#333","strokeWidth":1.5,"opacity":1},
 "encoding":{
  "x":{"field":"d","type":"quantitative","scale":{"domain":[-80,80],"nice":false,"zero":false},"axis":{"orient":"top","values":[-61,-36.6,-12.2,12.2,36.6,61],"labels":false,"tickSize":5,"title":null}},
  "y":{"field":"h","type":"quantitative","scale":{"domain":[0,2440],"nice":false,"zero":false},"axis":{"orient":"right","values":[100,300,500,700,900,1100,1300,1500,1700,1900,2100,2300],"labels":false,"tickSize":6,"title":null}},
  "shape":{"field":"lt","type":"nominal","scale":{"domain":["Test Data","Model"],"range":["M-1,0H5.83","M-1,0H0.8M3.9,0H5.83M1.25,1L2.33,-1L3.41,1Z"]},
   "legend":{"title":"Linetype","orient":"none","legendX":11,"legendY":292,"titleAnchor":"middle","titleFontSize":19,"titleFontWeight":"normal","labelFontSize":17,"symbolSize":144,"symbolStrokeWidth":1.5,"strokeColor":"#222","fillColor":"white","padding":12,"rowPadding":9,"labelOffset":36,"titlePadding":10}}}}
]
},
{
"width":402,"height":401,
"title":{"text":"b)","anchor":"start","frame":"group","font":"Liberation Serif","fontSize":23,"fontWeight":"bold","color":"#111","dx":8,"dy":100},
"resolve":{"axis":{"x":"independent","y":"independent"}},
"layer":[
{"data":{"values":[{"d":0}]},"mark":{"type":"rule","color":"#999","strokeWidth":1},
 "encoding":{"x":{"field":"d","type":"quantitative","scale":{"domain":[-40,40],"nice":false,"zero":false},"axis":null}}},
{"data":{"name":"test"},"transform":[{"filter":"datum.p === 'b'"}],"mark":{"type":"line","strokeWidth":1.3},
 "encoding":{
  "x":{"field":"d","type":"quantitative","scale":{"domain":[-40,40],"nice":false,"zero":false},"axis":{"orient":"bottom","values":[-40,-30,-20,-10,0,10,20,30,40],"labelExpr":"'' + datum.value","tickSize":12,"labelPadding":11,"title":"Shear Lateral Displacement (mm)","titlePadding":4}},
  "y":{"field":"h","type":"quantitative","scale":{"domain":[0,2440],"nice":false,"zero":false},"axis":{"orient":"left","values":[0,200,400,600,800,1000,1200,1400,1600,1800,2000,2200,2400],"labels":false,"tickSize":12,"title":null}},
  "color":{"field":"c","type":"nominal","scale":{"domain":["0.50%","1.00%","1.50%","2.00%","3.00%"],"range":["#ff44ff","#ee3333","#44cc77","#ff7a22","#333333"]},"legend":null},
  "detail":{"field":"s"},
  "order":{"field":"h","type":"quantitative"}}},
{"data":{"name":"model"},"transform":[{"filter":"datum.p === 'b'"}],"mark":{"type":"line","strokeWidth":1.3,"strokeDash":[8,5]},
 "encoding":{
  "x":{"field":"d","type":"quantitative","scale":{"domain":[-40,40],"nice":false,"zero":false},"axis":{"orient":"top","values":[-36.6,-24.4,-12.2,0,12.2,24.4,36.6],"labelExpr":"'' + round(datum.value/24.4*10)/10","tickSize":10,"labelPadding":4,"title":"Shear Drift Ratio (%)","titlePadding":10}},
  "y":{"field":"h","type":"quantitative","scale":{"domain":[0,2440],"nice":false,"zero":false},"axis":{"orient":"right","values":[0,200,400,600,800,1000,1200,1400,1600,1800,2000,2200,2400],"labels":false,"tickSize":12,"title":null}},
  "color":{"field":"c","type":"nominal","legend":null},
  "detail":{"field":"s"},
  "order":{"field":"h","type":"quantitative"}}},
{"data":{"name":"model"},"transform":[{"filter":"datum.p === 'b'"}],"mark":{"type":"point","shape":"triangle-up","filled":true,"size":34,"opacity":1},
 "encoding":{
  "x":{"field":"d","type":"quantitative","scale":{"domain":[-40,40],"nice":false,"zero":false},"axis":{"orient":"bottom","values":[-35,-25,-15,-5,5,15,25,35],"labels":false,"tickSize":6,"title":null}},
  "y":{"field":"h","type":"quantitative","scale":{"domain":[0,2440],"nice":false,"zero":false},"axis":{"orient":"left","values":[100,300,500,700,900,1100,1300,1500,1700,1900,2100,2300],"labels":false,"tickSize":6,"title":null}},
  "color":{"field":"c","type":"nominal","legend":null}}},
{"data":{"name":"model"},"transform":[{"filter":"false"}],"mark":{"type":"point","filled":true},
 "encoding":{
  "x":{"field":"d","type":"quantitative","scale":{"domain":[-40,40],"nice":false,"zero":false},"axis":{"orient":"top","values":[-39.04,-34.16,-31.72,-29.28,-26.84,-21.96,-19.52,-17.08,-14.64,-9.76,-7.32,-4.88,-2.44,2.44,4.88,7.32,9.76,14.64,17.08,19.52,21.96,26.84,29.28,31.72,34.16,39.04],"labels":false,"tickSize":5,"title":null}},
  "y":{"field":"h","type":"quantitative","scale":{"domain":[0,2440],"nice":false,"zero":false},"axis":{"orient":"right","values":[100,300,500,700,900,1100,1300,1500,1700,1900,2100,2300],"labels":false,"tickSize":6,"title":null}}}}
]
}
]
}
